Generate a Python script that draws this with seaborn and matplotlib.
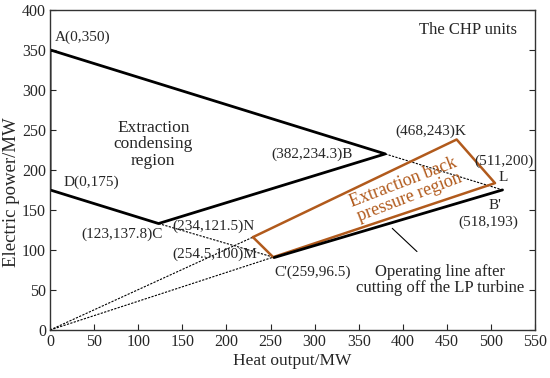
import matplotlib
matplotlib.use('Agg')
import matplotlib.pyplot as plt
import seaborn as sns

# extraction condensing region A-B-C-D-A (as drawn)
ecr_x = [0, 380, 123, 0, 0]
ecr_y = [350, 220, 133, 175, 350]

# extraction back pressure region N-K-L-M-N
ebp_x = [230, 461, 504.5, 253, 230]
ebp_y = [116, 238, 183.5, 91, 116]

# operating line C'-B'
op_x = [254, 513]
op_y = [90.5, 175]

# dotted helper lines
dot_lines = [
    ([0, 230], [0, 116]),
    ([0, 253], [0, 91]),
    ([123, 253], [133, 91]),
    ([380, 513], [220, 175]),
]

orange = '#b15a1c'

sns.set_style('white')
plt.rcParams['font.family'] = ['Liberation Serif', 'DejaVu Serif']
plt.rcParams['font.size'] = 11.5

fig, ax = plt.subplots(figsize=(5.5, 3.78), dpi=100)
fig.subplots_adjust(left=0.091, right=0.973, top=0.974, bottom=0.127)

for xs, ys in dot_lines:
    sns.lineplot(x=xs, y=ys, ax=ax, sort=False, estimator=None,
                 color='black', lw=0.8, linestyle=(0, (2, 1.2)))

sns.lineplot(x=ecr_x, y=ecr_y, ax=ax, sort=False, estimator=None, color='black', lw=2)
sns.lineplot(x=ebp_x, y=ebp_y, ax=ax, sort=False, estimator=None, color=orange, lw=1.8)
sns.lineplot(x=op_x, y=op_y, ax=ax, sort=False, estimator=None, color='black', lw=2)

# pointer for the operating line label
ax.plot([416, 388], [98, 127], color='black', lw=0.8)

ax.set_xlim(0, 550)
ax.set_ylim(0, 400)
ax.set_xticks(range(0, 551, 50))
ax.set_yticks(range(0, 401, 50))
ax.tick_params(direction='in', length=4, right=True, left=True, bottom=True,
               labelsize=11.5, pad=3)
for s in ax.spines.values():
    s.set_color('#333333')
    s.set_linewidth(1)
ax.set_xlabel('Heat output/MW', fontsize=12.5, labelpad=2)
ax.set_ylabel('Electric power/MW', fontsize=13.5)
ax.yaxis.set_label_coords(-0.062, 0.43)

fs = 11
ax.text(5, 357, 'A(0,350)', fontsize=fs, ha='left', va='bottom')
ax.text(15, 185, 'D(0,175)', fontsize=fs, ha='left', va='center')
ax.text(474, 375, 'The CHP units', fontsize=12, ha='center', va='center')
ax.text(117, 232, 'Extraction\ncondensing\nregion', fontsize=12.5, ha='center',
        va='center', linespacing=1.05)
ax.text(343, 219, '(382,234.3)B', fontsize=fs, ha='right', va='center')
ax.text(432, 248, '(468,243)K', fontsize=fs, ha='center', va='center')
ax.text(515, 211, '(511,200)', fontsize=fs, ha='center', va='center')
ax.text(514, 190, 'L', fontsize=fs, ha='center', va='center')
ax.text(505, 156, "B'", fontsize=fs, ha='center', va='center')
ax.text(497, 135, '(518,193)', fontsize=fs, ha='center', va='center')
ax.text(82, 119, '(123,137.8)C', fontsize=fs, ha='center', va='center')
ax.text(232, 129, '(234,121.5)N', fontsize=fs, ha='right', va='center')
ax.text(235, 95, '(254.5,100)M', fontsize=fs, ha='right', va='center')
ax.text(254, 72, "C'(259,96.5)", fontsize=fs, ha='left', va='center')
ax.text(442, 62, 'Operating line after\ncutting off the LP turbine', fontsize=12,
        ha='center', va='center', linespacing=1.0)
ax.text(404, 175, 'Extraction back\npressure region', fontsize=13, color=orange,
        ha='center', va='center', rotation=21, rotation_mode='anchor',
        linespacing=0.95)

fig.savefig('out.png', dpi=100)
